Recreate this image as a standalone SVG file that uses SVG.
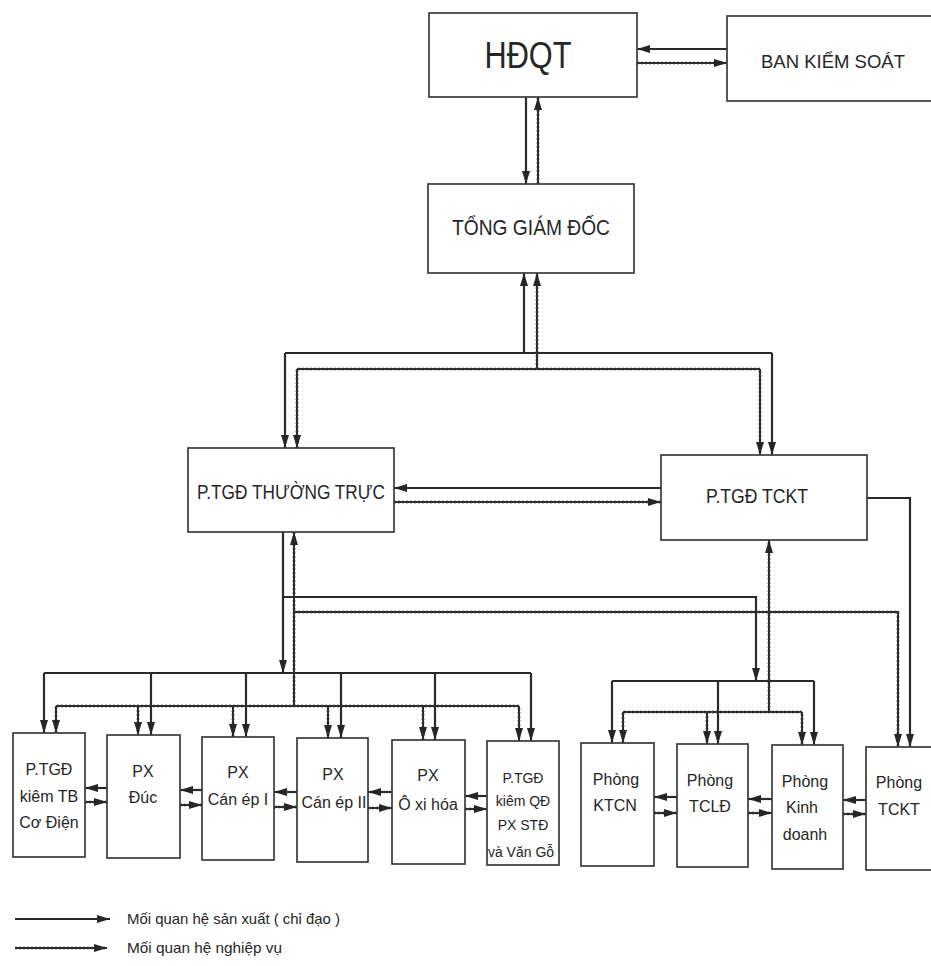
<svg xmlns="http://www.w3.org/2000/svg" width="931" height="966" viewBox="0 0 931 966">
<style>
.bg{fill:#fff}
.box{fill:#fff;stroke:#3a3a3a;stroke-width:1.7}
.p{fill:none;stroke:#2a2a2a;stroke-width:2.2}
.n{fill:none;stroke:#2e2e2e;stroke-width:2}
.nu{fill:none;stroke:#c4c4c4;stroke-width:4;stroke-dasharray:2 2}
.a{marker-end:url(#ah)}
.t{font-family:"Liberation Sans",Arial,sans-serif;fill:#262626;text-anchor:middle}
.s16{font-size:16px}
.s14{font-size:14px}
.lg{font-family:"Liberation Sans",Arial,sans-serif;fill:#262626;font-size:14.5px}
</style>
<defs>
<marker id="ah" viewBox="0 0 13 8" refX="13" refY="4" markerWidth="13" markerHeight="8" markerUnits="userSpaceOnUse" orient="auto">
<path d="M0,0 L13,4 L0,8 z" fill="#262626"/>
</marker>
</defs>
<rect class="bg" x="0" y="0" width="931" height="966"/>

<g id="connectors">
<g id="nv-underlay" class="nu">
<path d="M637,63 H727"/>
<path d="M538,184 V97"/>
<path d="M537,369 V273"/>
<path d="M297,448 V369 H760 V455"/>
<path d="M394,502 H661"/>
<path d="M294,706 V532"/>
<path d="M294,612 H898 V747"/>
<path d="M56,733 V706 H519 V741"/>
<path d="M138,706 V735 M233,706 V737 M328,706 V738 M423,706 V740"/>
<path d="M623,743 V712 H802 V745 M707,712 V744"/>
<path d="M769,712 V540"/>
<path d="M85,802 H107 M180,805 H202 M274,807 H297 M368,808 H392 M465,809 H487 M654,813 H677 M748,813 H772 M843,814 H866"/>
<path d="M15,948 H107"/>
</g>
<g id="production">
<path class="p a" d="M727,49 H637"/>
<path class="p a" d="M526,97 V184"/>
<path class="p a" d="M524,353 V273"/>
<path class="p" d="M285,353 H772"/>
<path class="p a" d="M285,353 V448"/>
<path class="p a" d="M772,353 V455"/>
<path class="p a" d="M661,488 H394"/>
<path class="p a" d="M283,532 V673"/>
<path class="p a" d="M283,597 H756 V681"/>
<path class="p" d="M44,673 H531"/>
<path class="p a" d="M44,673 V733"/>
<path class="p a" d="M151,673 V735"/>
<path class="p a" d="M246,673 V737"/>
<path class="p a" d="M341,673 V738"/>
<path class="p a" d="M435,673 V740"/>
<path class="p a" d="M531,673 V741"/>
<path class="p" d="M612,681 H814"/>
<path class="p a" d="M612,681 V743"/>
<path class="p a" d="M718,681 V744"/>
<path class="p a" d="M814,681 V745"/>
<path class="p a" d="M867,498 H910 V747"/>
<path class="p a" d="M107,788 H85"/>
<path class="p a" d="M202,790 H180"/>
<path class="p a" d="M297,792 H274"/>
<path class="p a" d="M392,792 H368"/>
<path class="p a" d="M487,796 H465"/>
<path class="p a" d="M677,797 H654"/>
<path class="p a" d="M772,799 H748"/>
<path class="p a" d="M866,800 H843"/>
<path class="p a" d="M15,919 H110"/>
</g>
<g id="nghiep-vu">
<path class="n a" d="M637,63 H727"/>
<path class="n a" d="M538,184 V97"/>
<path class="n a" d="M537,369 V273"/>
<path class="n" d="M297,369 H760"/>
<path class="n a" d="M297,369 V448"/>
<path class="n a" d="M760,369 V455"/>
<path class="n a" d="M394,502 H661"/>
<path class="n a" d="M294,706 V532"/>
<path class="n a" d="M294,612 H898 V747"/>
<path class="n" d="M56,706 H519"/>
<path class="n a" d="M56,706 V733"/>
<path class="n a" d="M138,706 V735"/>
<path class="n a" d="M233,706 V737"/>
<path class="n a" d="M328,706 V738"/>
<path class="n a" d="M423,706 V740"/>
<path class="n a" d="M519,706 V741"/>
<path class="n" d="M623,712 H802"/>
<path class="n a" d="M623,712 V743"/>
<path class="n a" d="M707,712 V744"/>
<path class="n a" d="M802,712 V745"/>
<path class="n a" d="M769,712 V540"/>
<path class="n a" d="M85,802 H107"/>
<path class="n a" d="M180,805 H202"/>
<path class="n a" d="M274,807 H297"/>
<path class="n a" d="M368,808 H392"/>
<path class="n a" d="M465,809 H487"/>
<path class="n a" d="M654,813 H677"/>
<path class="n a" d="M748,813 H772"/>
<path class="n a" d="M843,814 H866"/>
<path class="n a" d="M15,948 H107"/>
</g>
</g>

<g id="hdqt"><rect class="box" x="429" y="13" width="208" height="84"/><text class="t" x="528" y="68" font-size="36" textLength="87" lengthAdjust="spacingAndGlyphs">HĐQT</text></g>
<g id="ban-kiem-soat"><rect class="box" x="727" y="16" width="206" height="85"/><text class="t" x="833" y="68" font-size="18" textLength="144" lengthAdjust="spacingAndGlyphs">BAN KIỂM SOÁT</text></g>
<g id="tong-giam-doc"><rect class="box" x="428" y="184" width="206" height="89"/><text class="t" x="531" y="235" font-size="22" textLength="158" lengthAdjust="spacingAndGlyphs">TỔNG GIÁM ĐỐC</text></g>
<g id="ptgd-thuong-truc"><rect class="box" x="188" y="448" width="206" height="84"/><text class="t" x="291" y="499" font-size="21" textLength="188" lengthAdjust="spacingAndGlyphs">P.TGĐ THƯỜNG TRỰC</text></g>
<g id="ptgd-tckt"><rect class="box" x="661" y="455" width="206" height="85"/><text class="t" x="757" y="503" font-size="21" textLength="102" lengthAdjust="spacingAndGlyphs">P.TGĐ TCKT</text></g>

<g id="ptgd-tb-co-dien"><rect class="box" x="13" y="733" width="72" height="124"/><text class="t s16" x="49" y="775">P.TGĐ</text><text class="t s16" x="49" y="802">kiêm TB</text><text class="t s16" x="49" y="828">Cơ Điện</text></g>
<g id="px-duc"><rect class="box" x="107" y="735" width="73" height="123"/><text class="t s16" x="143" y="777">PX</text><text class="t s16" x="143" y="803">Đúc</text></g>
<g id="px-can-ep-1"><rect class="box" x="202" y="737" width="72" height="123"/><text class="t s16" x="238" y="778">PX</text><text class="t s16" x="238" y="805">Cán ép I</text></g>
<g id="px-can-ep-2"><rect class="box" x="297" y="738" width="71" height="124"/><text class="t s16" x="333" y="780">PX</text><text class="t s16" x="334" y="808">Cán ép II</text></g>
<g id="px-oxi-hoa"><rect class="box" x="392" y="740" width="73" height="124"/><text class="t s16" x="428" y="781">PX</text><text class="t s16" x="428" y="810">Ô xi hóa</text></g>
<g id="ptgd-qd-std"><rect class="box" x="487" y="741" width="72" height="124"/><text class="t s14" x="523" y="783">P.TGĐ</text><text class="t s14" x="523" y="806">kiêm QĐ</text><text class="t s14" x="523" y="830">PX STĐ</text><text class="t s14" x="521" y="857">và Văn Gỗ</text></g>
<g id="phong-ktcn"><rect class="box" x="581" y="743" width="73" height="123"/><text class="t s16" x="616" y="785">Phòng</text><text class="t s16" x="615" y="811">KTCN</text></g>
<g id="phong-tcld"><rect class="box" x="677" y="744" width="71" height="123"/><text class="t s16" x="710" y="786">Phòng</text><text class="t s16" x="710" y="812">TCLĐ</text></g>
<g id="phong-kinh-doanh"><rect class="box" x="772" y="745" width="71" height="124"/><text class="t s16" x="805" y="787">Phòng</text><text class="t s16" x="802" y="813">Kinh</text><text class="t s16" x="805" y="840">doanh</text></g>
<g id="phong-tckt"><rect class="box" x="866" y="747" width="72" height="123"/><text class="t s16" x="899" y="788">Phòng</text><text class="t s16" x="899" y="815">TCKT</text></g>

<g id="legend">
<text class="lg" x="127" y="924" textLength="213" lengthAdjust="spacingAndGlyphs">Mối quan hệ sản xuất ( chỉ đạo )</text>
<text class="lg" x="127" y="953" textLength="155" lengthAdjust="spacingAndGlyphs">Mối quan hệ nghiệp vụ</text>
</g>
</svg>
